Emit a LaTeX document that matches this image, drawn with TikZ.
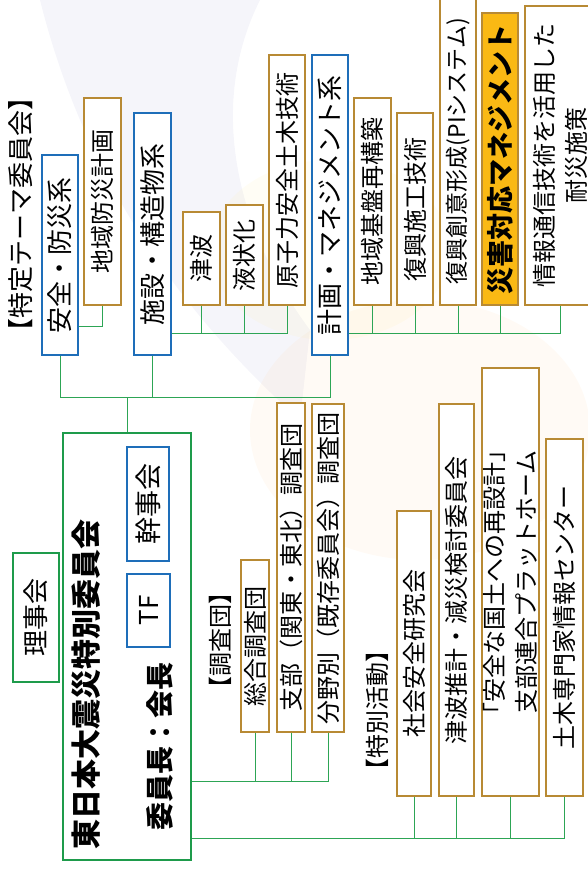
\documentclass[tikz,border=0pt]{standalone}
\usepackage{fontspec}
\setmainfont{Noto Sans CJK JP}
\usetikzlibrary{calc}
\definecolor{gold}{RGB}{184,138,52}
\definecolor{sysblue}{RGB}{30,110,185}
\definecolor{grn}{RGB}{30,155,75}
\definecolor{lgrn}{RGB}{45,165,85}
\definecolor{orng}{RGB}{250,185,20}
\tikzset{
  box/.style={draw=gold, line width=1.6pt, fill=white, rotate=90, inner sep=0pt, align=center, font=\fontsize{24}{32}\selectfont},
  bluebox/.style={box, draw=sysblue, font=\fontsize{26}{30}\selectfont},
  greenbox/.style={box, draw=grn, line width=1.8pt, font=\fontsize{26}{30}\selectfont},
  conn/.style={draw=lgrn, line width=0.9pt},
  lbl/.style={rotate=90, inner sep=0pt, align=center},
}
\begin{document}
\begin{tikzpicture}[x=1pt,y=1pt]
\useasboundingbox (0,0) rectangle (588,-870);
\clip (0,0) rectangle (588,-870);
% faint background wash
\fill[blue!30!gray, opacity=0.06] (40,0) .. controls (90,-200) and (200,-330) .. (300,-420) -- (310,-330) .. controls (250,-250) and (200,-120) .. (260,0) -- cycle;
\fill[orange, opacity=0.04] (420,-430) ellipse (170 and 130);
\fill[yellow!70!orange, opacity=0.04] (330,-250) ellipse (120 and 90);

% headings
\node[lbl, font=\fontsize{26}{30}\selectfont] (h1) at (21,-214) {【特定テーマ委員会】};
\node[lbl, font=\fontsize{24}{30}\selectfont] (h2) at (220,-640) {【調査団】};
\node[lbl, font=\fontsize{24}{30}\selectfont] (h3) at (377,-710) {【特別活動】};

% theme committees
\node[bluebox, minimum width=200pt, minimum height=36pt] (anzen) at (60,-255) {安全・防災系};
\node[box, minimum width=207pt, minimum height=37pt] (chiiki) at (102.5,-201.5) {地域防災計画};
\node[bluebox, minimum width=242pt, minimum height=37pt] (shisetsu) at (152.5,-234) {施設・構造物系};
\node[box, minimum width=93pt, minimum height=37pt] (tsunami) at (201.5,-258.5) {津波};
\node[box, minimum width=100pt, minimum height=37pt] (ekijo) at (244.5,-255) {液状化};
\node[box, minimum width=250pt, minimum height=36pt] (genshi) at (287,-180) {原子力安全土木技術};
\node[bluebox, minimum width=300pt, minimum height=36pt] (keikaku) at (330,-205) {計画・マネジメント系};
\node[box, minimum width=207pt, minimum height=37pt] (kiban) at (372.5,-201.5) {地域基盤再構築};
\node[box, minimum width=192pt, minimum height=36pt] (sekou) at (415,-209) {復興施工技術};
\node[box, minimum width=308pt, minimum height=36pt, font=\fontsize{23}{30}\selectfont] (pi) at (458,-151) {復興創意形成(PIシステム)};
\node[box, fill=orng, minimum width=292pt, minimum height=36pt, font=\fontsize{27}{30}\selectfont\bfseries] (saigai) at (500,-159) {災害対応マネジメント};
\node[box, minimum width=299pt, minimum height=70pt] (joho) at (560,-155.5) {情報通信技術を活用した\\耐災施策};

% main committee
\node[greenbox, minimum width=129pt, minimum height=46pt] (riji) at (36,-617.5) {理事会};
\node[greenbox, minimum width=427pt, minimum height=128pt] (big) at (127,-646.5) {};
\node[lbl, font=\fontsize{30}{34}\selectfont\bfseries] (title) at (86,-684) {東日本大震災特別委員会};
\node[bluebox, minimum width=114pt, minimum height=42pt, font=\fontsize{27}{30}\selectfont] (kanji) at (148,-504) {幹事会};
\node[bluebox, minimum width=73pt, minimum height=43pt] (tf) at (148.5,-610.5) {TF};
\node[lbl, font=\fontsize{28}{30}\selectfont\bfseries] (chair) at (160,-746.5) {委員長：会長};

% survey teams
\node[box, minimum width=172pt, minimum height=28pt] (sogo) at (255,-646) {総合調査団};
\node[box, minimum width=329pt, minimum height=28pt] (shibu) at (291,-567.5) {支部（関東・東北）調査団};
\node[box, minimum width=328pt, minimum height=32pt] (bunya) at (328,-568) {分野別（既存委員会）調査団};

% special activities
\node[box, minimum width=285pt, minimum height=34pt] (shakai) at (414,-653.5) {社会安全研究会};
\node[box, minimum width=392pt, minimum height=35pt] (tsunami2) at (456.5,-600) {津波推計・減災検討委員会};
\node[box, minimum width=428pt, minimum height=57pt] (kokudo) at (510.5,-582) {「安全な国土への再設計」\\支部連合プラットホーム};
\node[box, minimum width=357pt, minimum height=37pt] (doboku) at (564.5,-617.5) {土木専門家情報センター};

% connectors: theme committees
\coordinate (b1) at ([yshift=29pt]anzen.south west);
\draw[conn] (b1) -| (chiiki.west);
\coordinate (b2) at ([yshift=22pt]shisetsu.south west);
\draw[conn] (b2) -| (genshi.west);
\foreach \n in {tsunami,ekijo} \draw[conn] (\n.west) -- (\n.west |- b2);
\coordinate (b3) at ([yshift=22pt]keikaku.south west);
\draw[conn] (b3) -| (joho.west);
\foreach \n in {kiban,sekou,pi,saigai} \draw[conn] (\n.west) -- (\n.west |- b3);
\coordinate (t) at (0,-397);
\draw[conn] (anzen.west) |- (keikaku.west |- t) -- (keikaku.west);
\draw[conn] (shisetsu.west) -- (shisetsu.west |- t);
\draw[conn] (big.east) -- (big.east |- t);

% connectors: survey teams
\coordinate (s) at ([yshift=79pt]big.south west);
\draw[conn] (s) -| (bunya.west);
\foreach \n in {sogo,shibu} \draw[conn] (\n.west) -- (\n.west |- s);

% connectors: special activities
\coordinate (p) at ([yshift=22pt]big.south west);
\draw[conn] (p) -| (doboku.west);
\foreach \n in {shakai,tsunami2,kokudo} \draw[conn] (\n.west) -- (\n.west |- p);
\end{tikzpicture}
\end{document}
